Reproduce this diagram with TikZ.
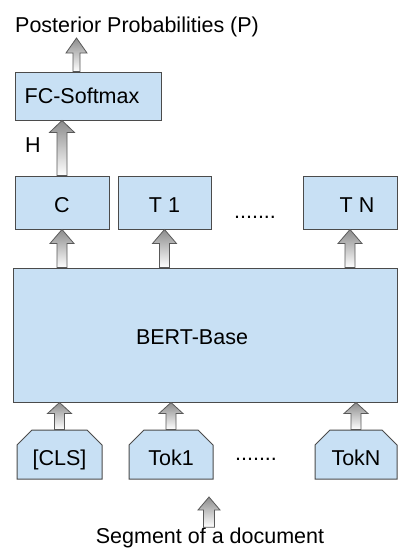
\documentclass[tikz,border=0pt]{standalone}
\usepackage{fontspec}
\setmainfont{Liberation Sans}
\usetikzlibrary{shapes.misc,calc}

\definecolor{boxblue}{RGB}{200,224,244}
\definecolor{boxline}{RGB}{75,75,75}

% block arrow pointing up: from, to, half shaft, half head, head length
\newcommand{\blockup}[5]{%
  \path[blockarrow] let \p1=(#1), \p2=(#2) in
    (\x1-#3,\y1) -- (\x1-#3,\y2-#5) -- (\x1-#4,\y2-#5) -- (\x1,\y2)
    -- (\x1+#4,\y2-#5) -- (\x1+#3,\y2-#5) -- (\x1+#3,\y1) -- cycle;}

\begin{document}
\begin{tikzpicture}
  [x=1pt,y=-1pt,
   every node/.style={font=\fontsize{21.5}{26}\selectfont,inner sep=0pt},
   box/.style={draw=boxline,fill=boxblue,line width=1pt,text height=20pt,text depth=0pt},
   tokbox/.style={box,chamfered rectangle,chamfered rectangle corners={north west,north east},
     chamfered rectangle xsep=8pt,chamfered rectangle ysep=7pt,text height=22pt},
   blockarrow/.style={draw=black!65,line width=0.8pt,top color=black!45,bottom color=white}]
  \useasboundingbox (0,0) rectangle (398,549);
  % top
  \node[anchor=base west] (title) at (15,32) {Posterior Probabilities (P)};
  \coordinate (tarr) at (76.5,38);
  \node[box,minimum width=146pt,minimum height=48pt,label={[xshift=-6pt]center:FC-Softmax}] (fc) at (88,96) {};
  \node (hlbl) at (33,145) {H};
  % output row
  \node[box,minimum width=94pt,minimum height=53pt] (outc) at (62,202.5) {C};
  \node[box,minimum width=93pt,minimum height=53pt] (outa) at (164.5,202.5) {T 1};
  \node[box,minimum width=94pt,minimum height=53pt,label={[xshift=7pt,yshift=-3pt]center:T N}] (outn) at (350,202.5) {};
  \node (dotsa) at (255,217) {.......};
  % encoder
  \node[box,minimum width=384pt,minimum height=134pt,label={[xshift=-13pt,yshift=-2pt]center:BERT-Base}] (bert) at (205,335) {};
  % input row
  \node[tokbox,minimum width=85pt,minimum height=49pt] (tokc) at (59.5,454.5) {[CLS]};
  \node[tokbox,minimum width=84pt,minimum height=49pt] (toka) at (171,454.5) {Tok1};
  \node[tokbox,minimum width=82pt,minimum height=49pt] (tokn) at (356,454.5) {TokN};
  \node (dotsb) at (256,459) {.......};
  \node[anchor=base] (seg) at (210,543) {Segment of a document};
  \coordinate (segtop) at (209,497);
  % arrows
  \blockup{fc.north -| tarr}{tarr}{3.5pt}{10.5pt}{15pt}
  \blockup{outc.north}{outc.north |- fc.south}{5pt}{12.5pt}{12pt}
  \foreach \out in {outc,outa,outn}
    {\blockup{bert.north -| \out.south}{\out.south}{5pt}{12pt}{14pt}}
  \foreach \tok in {tokc,toka,tokn}
    {\blockup{\tok.north}{\tok.north |- bert.south}{5pt}{12pt}{11pt}}
  \blockup{seg.north -| segtop}{segtop}{5.5pt}{11pt}{13pt}
\end{tikzpicture}
\end{document}
